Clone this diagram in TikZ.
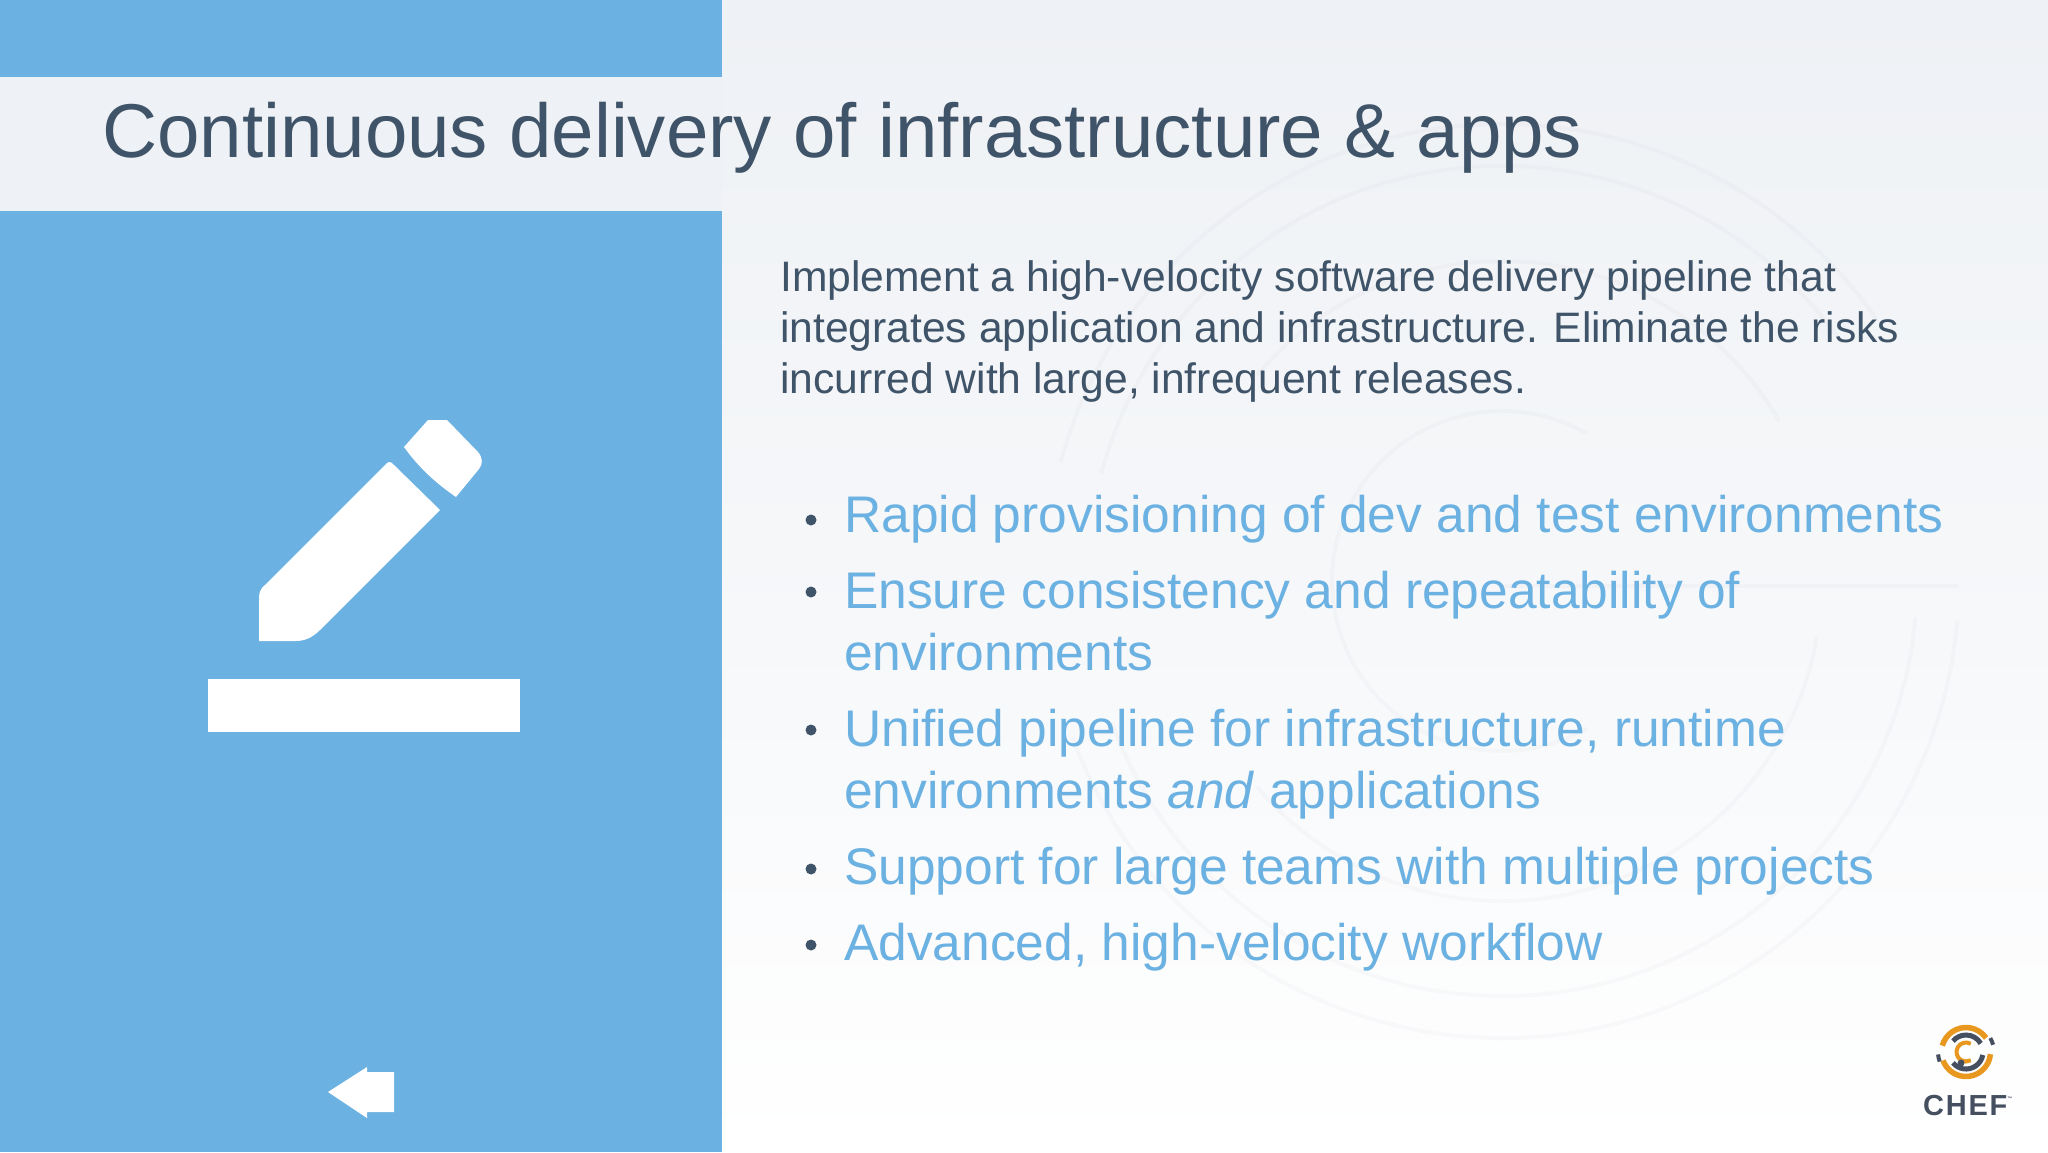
\documentclass[tikz,border=0pt]{standalone}
\usepackage{fontspec}
\setmainfont{Liberation Sans}
\usepackage{tikz}
\definecolor{panelblue}{HTML}{6BB1E2}
\definecolor{slate}{HTML}{3F5468}
\definecolor{paletop}{HTML}{EEF1F5}
\definecolor{chefamber}{HTML}{E8981F}
\definecolor{chefslate}{HTML}{454F60}
\tikzset{
  titletext/.style={anchor=base west, inner sep=0pt, text=slate, font=\fontsize{76.3}{80}\selectfont},
  introtext/.style={anchor=base west, inner sep=0pt, text=slate, font=\fontsize{42.6}{48}\selectfont},
  itemtext/.style={anchor=base west, inner sep=0pt, text=panelblue, font=\fontsize{51.5}{58}\selectfont},
  itemdot/.style={circle, fill=slate, inner sep=0pt, minimum size=11pt},
  watermark/.style={draw=black!70!blue, opacity=0.018, line width=4pt},
  iconshape/.style={fill=white, draw=none}
}

\begin{document}
\begin{tikzpicture}[x=1pt, y=-1pt]
  \useasboundingbox (0,0) rectangle (2048,1152);
  % slide background
  \shade[top color=paletop, bottom color=white, middle color=paletop!55!white] (0,0) rectangle (2048,1152);
  \begin{scope}[shift={(1502,581)}, x=1pt, y=1pt]
    \draw[watermark] (35:457) arc (35:165:457);
    \draw[watermark] (-5:457) arc (-5:-160:457);
    \draw[watermark] (35:415) arc (35:165:415);
    \draw[watermark] (-5:415) arc (-5:-160:415);
    \draw[watermark] (30:320) arc (30:140:320);
    \draw[watermark] (-10:320) arc (-10:-140:320);
    \draw[watermark] (60:170) arc (60:300:170);
    \draw[watermark] (0,-5) -- (457,-5);
  \end{scope}
  % left panel
  \fill[panelblue] (0,0) rectangle (722,77);
  \fill[paletop] (0,77) rectangle (722,211);
  \fill[panelblue] (0,211) rectangle (722,1152);
  % pencil
  \path[iconshape] (385,465) .. controls (388,461) and (391,461) .. (394,465) -- (440,510) -- (320,630)
    .. controls (312,638) and (304,641) .. (296,641) -- (259,641) -- (259,598)
    .. controls (259,592) and (261,588) .. (265,585) -- cycle;
  \path[iconshape] (404,447) -- (428,420) -- (447,420) -- (478,452)
    .. controls (483,458) and (483,464) .. (479,469) -- (456,497)
    .. controls (437,484) and (419,468) .. (404,447) -- cycle;
  \path[iconshape] (208,679) rectangle (520,732);
  % back arrow
  \path[iconshape] (328,1092) -- (367,1067) -- (367,1072) -- (394,1072) -- (394,1112) -- (367,1112) -- (367,1118) -- cycle;
  % texts
  \node[titletext] (title) at (102,157) {Continuous delivery of infrastructure \& apps};
  \node[introtext] (introa) at (780,291) {Implement a high-velocity software delivery pipeline that};
  \node[introtext] (introb) at (780,342) {integrates application and infrastructure. Eliminate the risks};
  \node[introtext] (introc) at (780,393) {incurred with large, infrequent releases.};
  \node[itemdot] (dota) at (811,520) {};
  \node[itemtext] (itema) at (844,532) {Rapid provisioning of dev and test environments};
  \node[itemdot] (dotb) at (811,592) {};
  \node[itemtext] (itemb) at (844,608) {Ensure consistency and repeatability of};
  \node[itemtext] (itemc) at (844,670) {environments};
  \node[itemdot] (dotc) at (811,730) {};
  \node[itemtext] (itemd) at (844,746) {Unified pipeline for infrastructure, runtime};
  \node[itemtext] (iteme) at (844,808) {environments \textit{and} applications};
  \node[itemdot] (dotd) at (811,869) {};
  \node[itemtext] (itemf) at (844,884) {Support for large teams with multiple projects};
  \node[itemdot] (dote) at (811,945) {};
  \node[itemtext] (itemg) at (844,960) {Advanced, high-velocity workflow};
  % logo
  \begin{scope}[shift={(1966,1052)}, x=1pt, y=1pt]
    \draw[chefamber, line width=5.5pt] (35:24.5) arc (35:165:24.5);
    \draw[chefamber, line width=5.5pt] (-5:24.5) arc (-5:-160:24.5);
    \draw[chefslate, line width=4pt] (15:28) arc (15:30:28);
    \draw[chefslate, line width=4pt] (185:28) arc (185:200:28);
    \draw[chefslate, line width=5pt] (30:17) arc (30:140:17);
    \draw[chefslate, line width=5pt] (-10:17) arc (-10:-140:17);
    \draw[chefamber, line width=4pt] (60:9.5) arc (60:300:9.5);
    \fill[chefslate] (-5,-11) circle (3.5);
  \end{scope}
  \node[anchor=base west, inner sep=0pt, text=chefslate, font=\fontsize{29}{30}\selectfont\bfseries\addfontfeatures{LetterSpace=6}] (chef) at (1923,1115) {CHEF\raisebox{15pt}{\fontsize{5}{5}\selectfont ™}};
\end{tikzpicture}
\end{document}
